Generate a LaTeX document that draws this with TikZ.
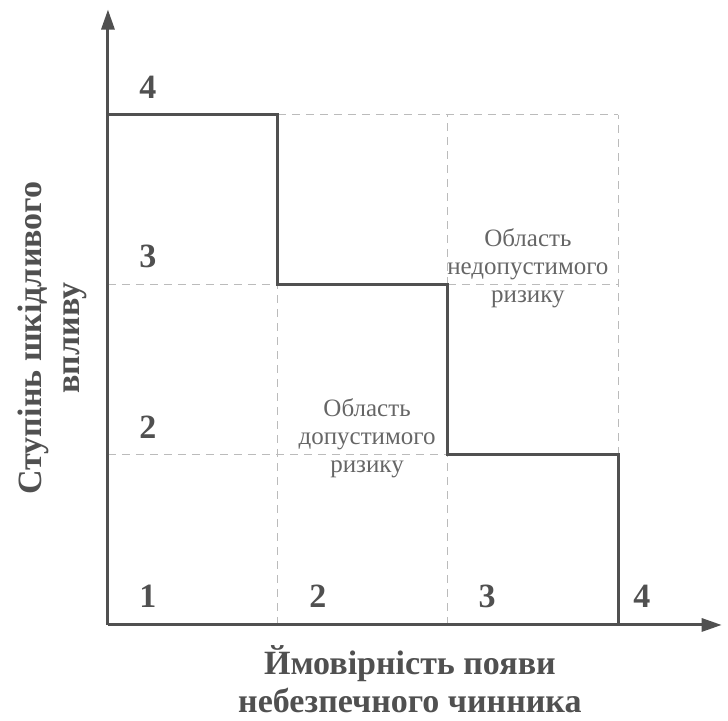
\documentclass[tikz,border=0pt]{standalone}
\usepackage{fontspec}
\setmainfont{Liberation Serif}
\usetikzlibrary{arrows.meta}
\definecolor{axisgray}{HTML}{505050}
\definecolor{gridgray}{HTML}{BBBBBB}
\definecolor{textgray}{HTML}{666666}
\tikzset{
  axisline/.style={line width=3pt,color=axisgray,-{Triangle[length=20pt,width=13pt]}},
  stepline/.style={line width=3pt,color=axisgray,line join=miter},
  gridline/.style={line width=1pt,color=gridgray,dash pattern=on 8pt off 6pt},
  levelnum/.style={font=\fontsize{34}{38}\selectfont\bfseries,text=axisgray,anchor=base},
  areatext/.style={font=\fontsize{25}{28}\selectfont,text=textgray,align=center,anchor=base},
  axistext/.style={font=\fontsize{34}{38}\selectfont\bfseries,text=axisgray,align=center,anchor=base,inner sep=0pt}
}
\begin{document}
\begin{tikzpicture}[x=170pt,y=170pt]
        \useasboundingbox (-0.635,-0.559) rectangle (3.647,3.676);
        %% grid
        \draw[gridline] (1,3) -- (3,3);
        \draw[gridline] (0,2) -- (1,2) (2,2) -- (3,2);
        \draw[gridline] (0,1) -- (2,1);
        \draw[gridline] (1,0) -- (1,2) (2,0) -- (2,1) (2,2) -- (2,3) (3,1) -- (3,3);
        %% axes
        \coordinate (O) at (0,0);
        \coordinate (xend) at (3.61,0);
        \coordinate (yend) at (0,3.62);
        \draw[axisline] (O) -- (xend);
        \draw[axisline] (O) -- (yend);
        %% border of the admissible area
        \draw[stepline] (0,3) -- (1,3) -- (1,2) -- (2,2) -- (2,1) -- (3,1) -- (3,0);
        %% levels
        \node[levelnum] (y1) at (0.235,0.1) {1};
        \node[levelnum] (y2) at (0.235,1.094) {2};
        \node[levelnum] (y3) at (0.235,2.103) {3};
        \node[levelnum] (y4) at (0.235,3.094) {4};
        \node[levelnum] (x2) at (1.235,0.1) {2};
        \node[levelnum] (x3) at (2.23,0.1) {3};
        \node[levelnum] (x4) at (3.14,0.1) {4};
        %% areas (base = last line)
        \node[areatext] (low) at (1.524,0.894) {Область\\допустимого\\ризику};
        \node[areatext] (high) at (2.47,1.894) {Область\\недопустимого\\ризику};
        %% axis labels
        \node[axistext] (xlabel) at (1.776,-0.512) {Ймовірність появи\\небезпечного чинника};
        \node[axistext,rotate=90] (ylabel) at (-0.165,1.688) {Ступінь шкідливого\\впливу};
    \end{tikzpicture}
\end{document}
